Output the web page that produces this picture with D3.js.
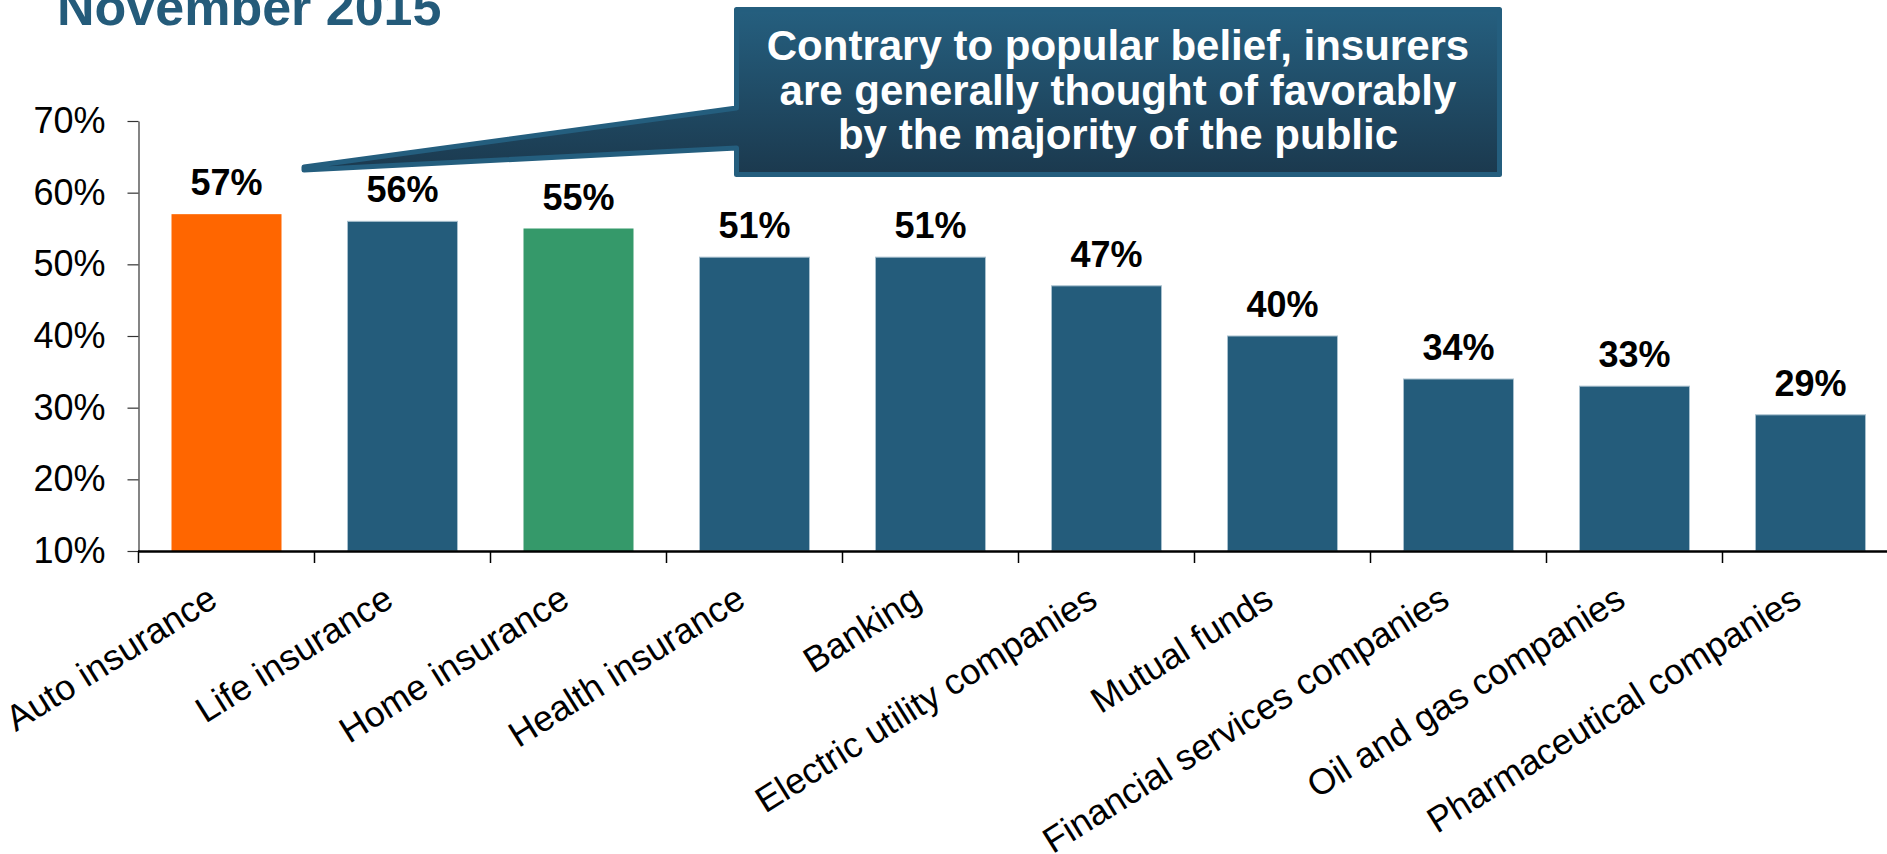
<!DOCTYPE html>
<html>
<head>
<meta charset="utf-8">
<script src="https://cdn.jsdelivr.net/npm/d3@7"></script>
<style>
  html, body { margin: 0; padding: 0; background: #ffffff; overflow: hidden; }
  svg { display: block; font-family: "Liberation Sans", Arial, Helvetica, sans-serif; }
</style>
</head>
<body>
<script>
// Share of public with a favorable view of each industry, November 2015
const categories = [
  "Auto insurance", "Life insurance", "Home insurance", "Health insurance",
  "Banking", "Electric utility companies", "Mutual funds",
  "Financial services companies", "Oil and gas companies", "Pharmaceutical companies"
];
const favorable = [57, 56, 55, 51, 51, 47, 40, 34, 33, 29];
const yTicks = [10, 20, 30, 40, 50, 60, 70];
const titleText = "November 2015";
const calloutLines = [
  "Contrary to popular belief, insurers",
  "are generally thought of favorably",
  "by the majority of the public"
];

// Bar colours: most bars share the house blue, two are highlighted
const baseBlue = "#245C7B";
const highlightColor = { "Auto insurance": "#FF6600", "Home insurance": "#35996A" };

const W = 1887, H = 854;
const svg = d3.select("body").append("svg").attr("width", W).attr("height", H);

const x = d3.scaleBand()
  .domain(categories)
  .range([138.5, 1898.5])
  .paddingInner(0.375)
  .paddingOuter(0.1875);

const y = d3.scaleLinear().domain([10, 70]).range([551, 121]);

const data = categories.map((c, i) => ({ cat: c, value: favorable[i] }));

// Title (top line of the slide heading)
svg.append("text")
  .attr("x", 57).attr("y", 25)
  .attr("font-size", 52).attr("font-weight", "bold")
  .attr("fill", "#245B7A")
  .text(titleText);

// Bars
svg.append("g").selectAll("rect")
  .data(data)
  .join("rect")
  .attr("x", d => x(d.cat))
  .attr("y", d => y(d.value))
  .attr("width", x.bandwidth())
  .attr("height", d => y(10) - y(d.value))
  .attr("fill", d => highlightColor[d.cat] || baseBlue)
  .attr("stroke", d => highlightColor[d.cat] ? "none" : "#a8c0ce")
  .attr("stroke-width", 1);

// Y axis
const yAxis = svg.append("g")
  .attr("transform", "translate(138.5,0)")
  .call(d3.axisLeft(y)
    .tickValues(yTicks)
    .tickFormat(d => d + "%")
    .tickSize(11)
    .tickPadding(22)
    .tickSizeOuter(0));
yAxis.select(".domain").attr("stroke", "#333").attr("stroke-width", 1.2);
yAxis.selectAll(".tick line").attr("stroke", "#333").attr("stroke-width", 1.2);
yAxis.selectAll(".tick text")
  .attr("font-size", 36)
  .attr("fill", "#000")
  .attr("font-family", "'Liberation Sans', Arial, sans-serif");

// X axis baseline and category boundary ticks
svg.append("line")
  .attr("x1", 138).attr("x2", W)
  .attr("y1", 551.5).attr("y2", 551.5)
  .attr("stroke", "#000").attr("stroke-width", 2.5);

const gap = (x.step() - x.bandwidth()) / 2;
svg.append("g").selectAll("line")
  .data(categories)
  .join("line")
  .attr("x1", c => x(c) - gap).attr("x2", c => x(c) - gap)
  .attr("y1", 551).attr("y2", 563)
  .attr("stroke", "#000").attr("stroke-width", 1.5);

// Category labels
svg.append("g").selectAll("text")
  .data(categories)
  .join("text")
  .attr("transform", c => `translate(${x(c) + x.bandwidth() / 2 - 7},605) rotate(-32)`)
  .attr("text-anchor", "end")
  .attr("font-size", 36)
  .attr("fill", "#000")
  .text(c => c);

// Value labels
svg.append("g").selectAll("text")
  .data(data)
  .join("text")
  .attr("x", d => x(d.cat) + x.bandwidth() / 2)
  .attr("y", d => y(d.value) - 19)
  .attr("text-anchor", "middle")
  .attr("font-size", 36)
  .attr("font-weight", "bold")
  .attr("fill", "#000")
  .text(d => d.value + "%");

// Callout box with pointer toward the auto insurance bar
const defs = svg.append("defs");
const grad = defs.append("linearGradient")
  .attr("id", "calloutFill")
  .attr("x1", 0).attr("y1", 0).attr("x2", 0).attr("y2", 1);
grad.append("stop").attr("offset", "0%").attr("stop-color", "#255F7F");
grad.append("stop").attr("offset", "100%").attr("stop-color", "#1B394E");

const bx0 = 736.5, bx1 = 1499.5, by0 = 9.5, by1 = 174.5;
const calloutPath = d3.path();
calloutPath.moveTo(bx0, by0);
calloutPath.lineTo(bx1, by0);
calloutPath.lineTo(bx1, by1);
calloutPath.lineTo(bx0, by1);
calloutPath.lineTo(bx0, 148);
calloutPath.lineTo(304, 170);
calloutPath.lineTo(304, 167);
calloutPath.lineTo(bx0, 108);
calloutPath.closePath();

svg.append("path")
  .attr("d", calloutPath.toString())
  .attr("fill", "url(#calloutFill)")
  .attr("stroke", "#245E7E")
  .attr("stroke-width", 5)
  .attr("stroke-linejoin", "round");

svg.append("g").selectAll("text")
  .data(calloutLines)
  .join("text")
  .attr("x", (bx0 + bx1) / 2)
  .attr("y", (d, i) => 60 + i * 44.5)
  .attr("text-anchor", "middle")
  .attr("font-size", 42)
  .attr("font-weight", "bold")
  .attr("fill", "#ffffff")
  .text(d => d);
</script>
</body>
</html>
